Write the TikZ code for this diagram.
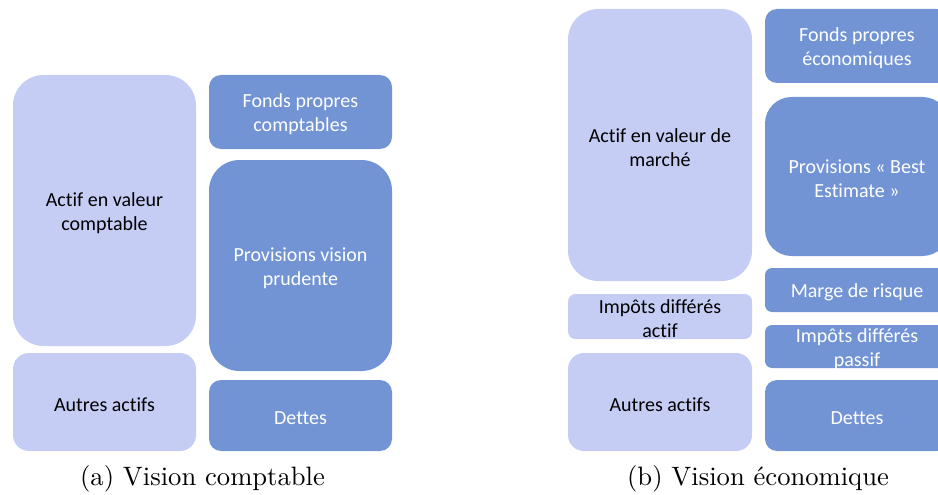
\documentclass[tikz,border=0pt]{standalone}
\usepackage{fontspec}
\newfontfamily\boxfont[Ligatures=NoCommon]{Carlito}
\definecolor{lightbox}{RGB}{197,205,245}
\definecolor{darkbox}{RGB}{114,148,212}
\begin{document}
\begin{tikzpicture}[x=1pt,y=-1pt,
  blk/.style={rectangle, draw=none, inner sep=0pt, outer sep=0pt},
  light/.style={blk, fill=lightbox},
  dark/.style={blk, fill=darkbox},
  lbl/.style={font=\boxfont\fontsize{20}{24}\selectfont, align=center, inner sep=0pt, text=black, yshift=-2.5pt},
  wlbl/.style={lbl, text=white},
  subcaption/.style={anchor=base, scale=2.66, inner sep=0pt}
]
\path[use as bounding box] (0,0) rectangle (938,495);
\clip (0,0) rectangle (938,495);

% (a) accounting balance sheet
\node[light, minimum width=183pt, minimum height=271pt, rounded corners=30.5pt,
  label={[lbl]center:Actif en valeur\\comptable}] (aA) at (104.5,210.5) {};
\node[light, minimum width=183pt, minimum height=98pt, rounded corners=16pt,
  label={[lbl]center:Autres actifs}] (aB) at (104.5,402) {};
\node[dark, minimum width=183pt, minimum height=74pt, rounded corners=12pt,
  label={[wlbl]center:Fonds propres\\comptables}] (aF) at (300.5,112) {};
\node[dark, minimum width=183pt, minimum height=211pt, rounded corners=30.5pt,
  label={[wlbl]center:Provisions vision\\prudente}] (aP) at (300.5,265.5) {};
\node[dark, minimum width=183pt, minimum height=71pt, rounded corners=12pt,
  label={[wlbl]center:Dettes}] (aD) at (300.5,415.5) {};

% (b) economic balance sheet
\node[light, minimum width=184pt, minimum height=272pt, rounded corners=30.5pt,
  label={[lbl]center:Actif en valeur de\\marché}] (bA) at (660,145) {};
\node[light, minimum width=184pt, minimum height=45pt, rounded corners=7.5pt,
  label={[lbl]center:Impôts différés\\actif}] (bI) at (660,316.5) {};
\node[light, minimum width=184pt, minimum height=98pt, rounded corners=16pt,
  label={[lbl]center:Autres actifs}] (bB) at (660,402) {};
\node[dark, minimum width=184pt, minimum height=74pt, rounded corners=12pt,
  label={[wlbl]center:Fonds propres\\économiques}] (bF) at (857,46) {};
\node[dark, minimum width=184pt, minimum height=159pt, rounded corners=26.5pt,
  label={[wlbl]center:Provisions « Best\\Estimate »}] (bP) at (857,176.5) {};
\node[dark, minimum width=184pt, minimum height=44pt, rounded corners=7pt,
  label={[wlbl]center:Marge de risque}] (bM) at (857,290) {};
\node[dark, minimum width=184pt, minimum height=43pt, rounded corners=7pt,
  label={[wlbl]center:Impôts différés\\passif}] (bT) at (857,346.5) {};
\node[dark, minimum width=184pt, minimum height=71pt, rounded corners=12pt,
  label={[wlbl]center:Dettes}] (bD) at (857,415.5) {};

% captions
\node[subcaption] (capA) at (202.5,485.5) {(a) Vision comptable};
\node[subcaption] (capB) at (758,485.5) {(b) Vision économique};
\end{tikzpicture}
\end{document}
